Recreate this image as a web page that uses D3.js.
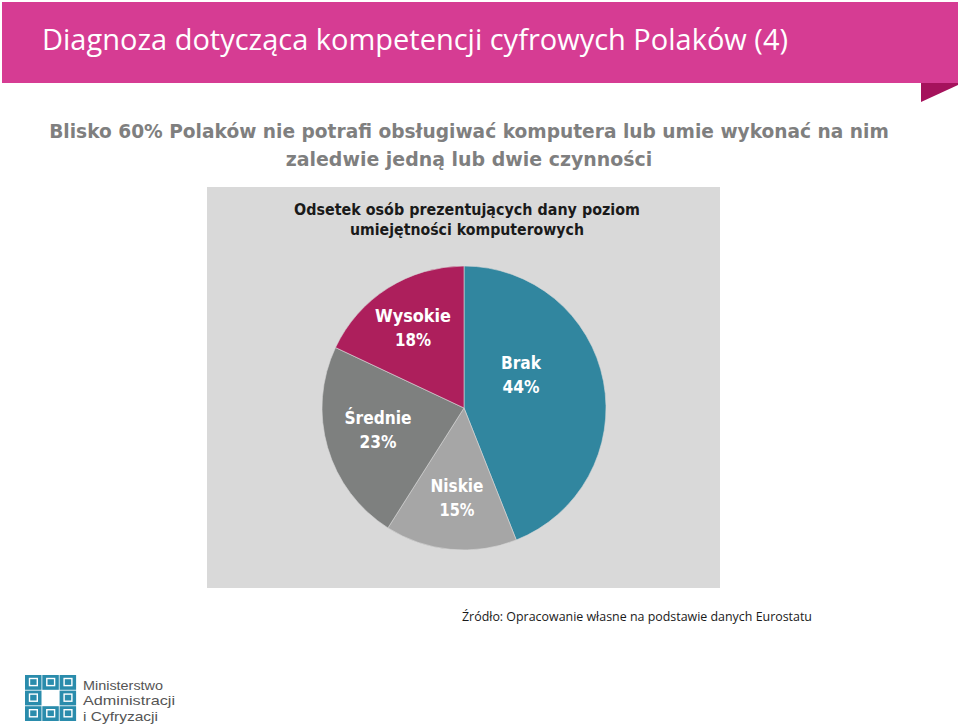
<!DOCTYPE html>
<html><head><meta charset="utf-8">
<script src="https://cdn.jsdelivr.net/npm/d3@7"></script>
<style>body{margin:0;background:#fff}svg{display:block}</style>
</head><body>
<script>
const categories = ["Brak", "Niskie", "Średnie", "Wysokie"];
const values = [44, 15, 23, 18];
const colors = ["#31869f", "#a6a6a6", "#7e807f", "#ad1f5c"];
const title = "Diagnoza dotycząca kompetencji cyfrowych Polaków (4)";
const subtitle = ["Blisko 60% Polaków nie potrafi obsługiwać komputera lub umie wykonać na nim", "zaledwie jedną lub dwie czynności"];
const chartTitle = ["Odsetek osób prezentujących dany poziom", "umiejętności komputerowych"];
const source = "Źródło: Opracowanie własne na podstawie danych Eurostatu";
const logoText = ["Ministerstwo", "Administracji", "i Cyfryzacji"];

const W = 960, H = 727;
const svg = d3.select("body").append("svg").attr("width", W).attr("height", H);

function fit(sel, target) {
  const n = sel.node();
  const fs = parseFloat(sel.attr("font-size"));
  const w = n.getComputedTextLength();
  sel.attr("font-size", (fs * target / w).toFixed(2));
}

// header band
svg.append("rect").attr("x", 2).attr("y", 2).attr("width", 956).attr("height", 81).attr("fill", "#d63c93");
svg.append("path").attr("d", "M921,83 L958,83 L958,85 L921,102 Z").attr("fill", "#a5125c");
svg.append("text").attr("x", 42).attr("y", 50).attr("font-family", "'Open Sans', sans-serif")
  .attr("font-size", 30).attr("fill", "#fff")
  .attr("textLength", 746).attr("lengthAdjust", "spacingAndGlyphs").text(title);

// subtitle
const sub = [[469, 138, 840], [469, 166, 367]];
subtitle.forEach((s, i) => {
  const e = svg.append("text").attr("x", sub[i][0]).attr("y", sub[i][1]).attr("text-anchor", "middle")
    .attr("font-family", "'DejaVu Sans', sans-serif").attr("font-weight", "bold").attr("font-size", 19)
    .attr("fill", "#7f7f7f").text(s);
  fit(e, sub[i][2]);
});

// panel
svg.append("rect").attr("x", 207).attr("y", 187).attr("width", 513).attr("height", 401).attr("fill", "#d9d9d9");
const ct = [[467, 215, 346], [467, 235, 234]];
chartTitle.forEach((s, i) => {
  svg.append("text").attr("x", ct[i][0]).attr("y", ct[i][1]).attr("text-anchor", "middle")
    .attr("font-family", "'DejaVu Sans', sans-serif").attr("font-weight", "bold").attr("font-size", 15)
    .attr("fill", "#1a1a1a").attr("textLength", ct[i][2]).attr("lengthAdjust", "spacingAndGlyphs").text(s);
});

// pie
const cx = 464, cy = 408, R = 142;
const data = categories.map((c, i) => ({ c, v: values[i], col: colors[i] }));
const pie = d3.pie().value(d => d.v).sort(null);
const arc = d3.arc().innerRadius(0).outerRadius(R);
const g = svg.append("g").attr("transform", `translate(${cx},${cy})`);
const arcs = pie(data);
g.selectAll("path").data(arcs).join("path").attr("d", arc).attr("fill", d => d.data.col)
  .attr("stroke", "#d9d9d9").attr("stroke-width", 0.6);

const labelPos = { "Brak": [521, 369], "Niskie": [457, 492], "Średnie": [378, 424], "Wysokie": [413, 322] };
const lw = { "Brak": 40, "Niskie": 53, "Średnie": 67, "Wysokie": 76 };
const pw = { "Brak": 37, "Niskie": 35, "Średnie": 37, "Wysokie": 36 };
arcs.forEach(a => {
  const [x, y] = labelPos[a.data.c];
  svg.append("text").attr("x", x).attr("y", y).attr("text-anchor", "middle")
    .attr("font-family", "'DejaVu Sans', sans-serif").attr("font-weight", "bold").attr("font-size", 17)
    .attr("fill", "#fff").attr("textLength", lw[a.data.c]).attr("lengthAdjust", "spacingAndGlyphs").text(a.data.c);
  svg.append("text").attr("x", x).attr("y", y + 24).attr("text-anchor", "middle")
    .attr("font-family", "'DejaVu Sans', sans-serif").attr("font-weight", "bold").attr("font-size", 17)
    .attr("fill", "#fff").attr("textLength", pw[a.data.c]).attr("lengthAdjust", "spacingAndGlyphs").text(a.data.v + "%");
});

// source
svg.append("text").attr("x", 462).attr("y", 621).attr("font-family", "'Open Sans', sans-serif")
  .attr("font-size", 13.5).attr("fill", "#1a1a1a")
  .attr("textLength", 350).attr("lengthAdjust", "spacingAndGlyphs").text(source);

// logo
const lg = svg.append("g").attr("transform", "translate(25,675)");
const cw = 17.3, ch = 15.6;
for (let r = 0; r < 3; r++) for (let c = 0; c < 3; c++) {
  if (r === 1 && c === 1) continue;
  lg.append("rect").attr("x", c * cw).attr("y", r * ch).attr("width", cw - 0.8).attr("height", ch - 0.8).attr("fill", "#2a8cac");
  lg.append("rect").attr("x", c * cw + 4.5).attr("y", r * ch + 3.5).attr("width", cw - 9.5).attr("height", ch - 8.5)
    .attr("fill", "none").attr("stroke", "#fff").attr("stroke-width", 1.4);
}
const lt = [80, 92, 75];
logoText.forEach((s, i) => {
  svg.append("text").attr("x", 83).attr("y", 690 + i * 15.3).attr("font-family", "'Liberation Sans', sans-serif")
    .attr("font-size", 13.2).attr("fill", "#555")
    .attr("textLength", lt[i]).attr("lengthAdjust", "spacingAndGlyphs").text(s);
});
</script>
</body></html>
